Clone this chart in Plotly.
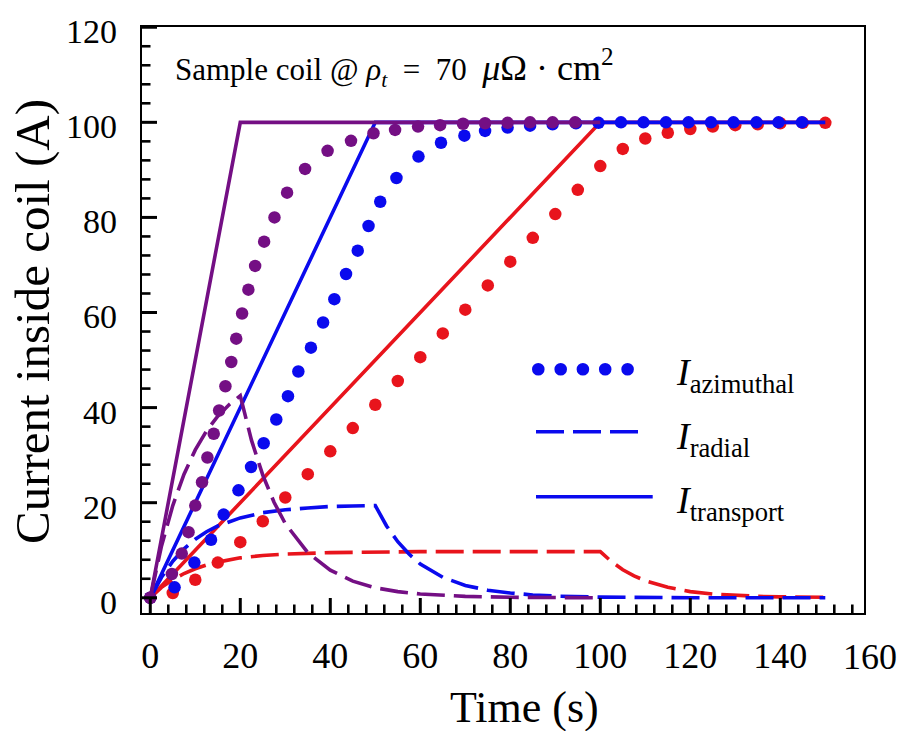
import plotly.graph_objects as go

# ---- data: currents inside the sample coil for three ramp rates ----
# transport current (solid)
t_tr_purple = [0, 20, 100]
i_tr_purple = [0, 100, 100]
t_tr_blue = [0, 50, 150]
i_tr_blue = [0, 100, 100]
t_tr_red = [0, 100, 150]
i_tr_red = [0, 100, 100]

# radial current (dashed)
t_rad_purple = [0, 2.5, 5, 7.5, 10, 12.5, 15, 17.5, 20, 22.5, 25, 27.5, 30, 35, 40, 45,
                50, 55, 60, 70, 80, 90, 100]
i_rad_purple = [0, 10.9, 19.4, 26.0, 31.1, 35.1, 38.2, 40.6, 42.5, 33.1, 25.8, 20.1, 15.6,
                9.5, 5.8, 3.5, 2.1, 1.3, 0.8, 0.3, 0.1, 0.05, 0.0]
t_rad_blue = [0, 2.5, 5, 7.5, 10, 12.5, 15, 17.5, 20, 25, 30, 35, 40, 45, 50, 52.5, 55,
              57.5, 60, 65, 70, 75, 80, 85, 90, 100, 110, 120, 150]
i_rad_blue = [0, 4.3, 7.7, 10.3, 12.3, 13.9, 15.1, 16.0, 16.8, 17.9, 18.5, 18.9, 19.2, 19.3,
              19.4, 15.1, 11.8, 9.2, 7.1, 4.3, 2.6, 1.6, 1.0, 0.6, 0.35, 0.13, 0.05, 0.02, 0.0]
t_rad_red = [0, 2.5, 5, 7.5, 10, 12.5, 15, 17.5, 20, 25, 30, 40, 50, 60, 80, 100, 102.5,
             105, 107.5, 110, 115, 120, 125, 130, 135, 140, 150]
i_rad_red = [0, 2.2, 3.8, 5.1, 6.1, 6.9, 7.5, 8.0, 8.4, 8.9, 9.2, 9.5, 9.65, 9.7, 9.7, 9.7,
             7.6, 5.9, 4.6, 3.6, 2.2, 1.3, 0.8, 0.5, 0.3, 0.2, 0.1]

# azimuthal current (dotted)
t_az_purple = [0, 4.8, 7.0, 8.5, 10, 11.5, 12.7, 14.1, 15.3, 16.7, 18.0, 19.1, 20.4, 21.8,
               23.3, 25.3, 27.6, 30.4, 34.4, 39.4, 44.6, 49.6, 54.4, 59.5, 64.4, 69.5,
               74.4, 79.4, 84.4, 89.4, 94.4]
i_az_purple = [0, 5.0, 9.3, 13.8, 19.4, 24.3, 29.5, 34.5, 39.4, 44.5, 49.6, 54.5, 59.8, 64.8,
               69.8, 74.9, 80.0, 85.2, 90.2, 94.0, 96.1, 97.7, 98.4, 99.1, 99.4, 99.7,
               99.8, 99.9, 100, 100, 100]
t_az_blue = [0, 5.4, 9.8, 13.5, 16.3, 19.6, 22.4, 25.2, 28.0, 30.6, 32.9, 35.7, 38.4, 40.9,
             43.5, 46.1, 48.5, 51.1, 54.7, 59.6, 64.6, 69.8, 74.4, 79.4, 84.4, 89.4, 94.6,
             99.6, 104.6, 109.6, 114.6, 119.6, 124.6, 129.6, 134.7, 139.6, 144.8]
i_az_blue = [0, 2.2, 7.4, 12.2, 17.5, 22.6, 27.5, 32.5, 37.5, 42.4, 47.6, 52.6, 57.9, 62.8,
             68.1, 73.0, 78.2, 83.3, 88.3, 92.8, 95.7, 97.2, 98.2, 98.9, 99.3, 99.6, 99.8,
             99.9, 100, 100, 100, 100, 100, 100, 100, 100, 100]
t_az_red = [0, 5, 10, 15, 20, 25, 30, 35, 40, 45, 50, 55, 60, 65, 70, 75, 80, 85, 90, 95,
            100, 105, 110, 115, 120, 125, 130, 135, 140, 145, 150]
i_az_red = [0, 1.0, 3.8, 7.4, 11.7, 16.1, 21.1, 26.0, 30.8, 35.7, 40.6, 45.6, 50.6, 55.6,
            60.6, 65.7, 70.7, 75.7, 80.7, 85.8, 90.8, 94.4, 96.6, 97.8, 98.6, 99.1, 99.4,
            99.6, 99.8, 99.9, 99.9]

# axis tick positions
x_major = [0, 20, 40, 60, 80, 100, 120, 140]
y_major = [0, 20, 40, 60, 80, 100, 120]
x_minor = [v for v in range(4, 157, 4) if v % 20]
y_minor = [v for v in range(4, 120, 4) if v % 20]

PURPLE = "#740F84"
BLUE = "#0A0AEE"
RED = "#E8141C"
INK = "#000000"
FONT = "Liberation Serif"
DASH = "28px,9px"

W, H = 897, 731
L, R, T, B = 142, 33, 27, 118
X_RANGE = [-1.84, 158.6]
Y_RANGE = [-3.2, 120.05]
PLOT_W = W - L - R
PLOT_H = H - T - B


def px(xpix):
    return (xpix - L) / PLOT_W


def py(ypix):
    return (H - B - ypix) / PLOT_H


# pixel length -> axis units
x_per_px = (X_RANGE[1] - X_RANGE[0]) / PLOT_W
y_per_px = (Y_RANGE[1] - Y_RANGE[0]) / PLOT_H

fig = go.Figure()

series = [
    (RED, t_rad_red, i_rad_red, t_tr_red, i_tr_red, t_az_red, i_az_red),
    (BLUE, t_rad_blue, i_rad_blue, t_tr_blue, i_tr_blue, t_az_blue, i_az_blue),
    (PURPLE, t_rad_purple, i_rad_purple, t_tr_purple, i_tr_purple, t_az_purple, i_az_purple),
]
for color, tr_t, tr_i, tt_t, tt_i, ta_t, ta_i in series:
    fig.add_trace(go.Scatter(x=tr_t, y=tr_i, mode="lines", showlegend=False,
                             line=dict(color=color, width=3.6, dash=DASH)))
    fig.add_trace(go.Scatter(x=tt_t, y=tt_i, mode="lines", showlegend=False,
                             line=dict(color=color, width=3.6)))
    fig.add_trace(go.Scatter(x=ta_t, y=ta_i, mode="markers", showlegend=False,
                             marker=dict(color=color, size=12.5, line=dict(width=0))))


def tick_trace(vals, length_px, width, vertical):
    xs, ys = [], []
    for v in vals:
        if vertical:
            xs += [v, v, None]
            ys += [Y_RANGE[0], Y_RANGE[0] + length_px * y_per_px, None]
        else:
            xs += [X_RANGE[0], X_RANGE[0] + length_px * x_per_px, None]
            ys += [v, v, None]
    return go.Scatter(x=xs, y=ys, mode="lines", showlegend=False, hoverinfo="skip",
                      cliponaxis=False, connectgaps=False,
                      line=dict(color=INK, width=width))


# inward tick marks on the bottom and left edges of the frame
fig.add_trace(tick_trace(x_major, 15, 3.0, True))
fig.add_trace(tick_trace(x_minor, 8.5, 2.6, True))
fig.add_trace(tick_trace(y_major, 15, 3.0, False))
fig.add_trace(tick_trace(y_minor, 8.5, 2.6, False))

axis_common = dict(
    showgrid=False, zeroline=False, showline=True, linewidth=2.2, linecolor=INK,
    mirror=True, ticks="", tickmode="linear", tick0=0, dtick=20,
)

fig.update_xaxes(
    range=X_RANGE,
    tickfont=dict(family=FONT, size=36, color=INK), ticklabelstandoff=10,
    **axis_common,
)
fig.update_yaxes(
    range=Y_RANGE,
    tickfont=dict(family=FONT, size=34, color=INK), ticklabelstandoff=16,
    ticklabelshift=4, **axis_common,
)

# legend keys drawn as shapes in paper space
shapes = []
for xc in [538.3, 560.7, 582.9, 605.2, 627.6]:
    shapes.append(dict(type="circle", xref="paper", yref="paper",
                       xsizemode="pixel", ysizemode="pixel",
                       xanchor=px(xc), yanchor=py(369.3),
                       x0=-6.3, x1=6.3, y0=-6.3, y1=6.3,
                       fillcolor=BLUE, line=dict(width=0)))
shapes.append(dict(type="line", xref="paper", yref="paper",
                   x0=px(536), x1=px(640), y0=py(431.7), y1=py(431.7),
                   line=dict(color=BLUE, width=3.6, dash=DASH)))
shapes.append(dict(type="line", xref="paper", yref="paper",
                   x0=px(536), x1=px(652.7), y0=py(496.7), y1=py(496.7),
                   line=dict(color=BLUE, width=3.6)))

NB = "&nbsp;"
title_text = (
    "Sample coil @ <i>ρ</i><sub><i>t</i></sub>" + NB * 2 + "=" + NB * 2 + "70" + NB * 2
    + "<span style='font-size:36px'><i>μ</i>Ω" + NB + "·" + NB + "cm<sup>2</sup></span>"
)

annotations = [
    dict(text=title_text,
         xref="paper", yref="paper", x=px(173), y=py(67), xanchor="left", yanchor="middle",
         showarrow=False, font=dict(family=FONT, size=31, color=INK)),
    dict(text="<i>I</i><sub>azimuthal</sub>", xref="paper", yref="paper",
         x=px(674), y=py(375), xanchor="left", yanchor="middle", showarrow=False,
         font=dict(family=FONT, size=38, color=INK)),
    dict(text="<i>I</i><sub>radial</sub>", xref="paper", yref="paper",
         x=px(674), y=py(439), xanchor="left", yanchor="middle", showarrow=False,
         font=dict(family=FONT, size=38, color=INK)),
    dict(text="<i>I</i><sub>transport</sub>", xref="paper", yref="paper",
         x=px(674), y=py(503), xanchor="left", yanchor="middle", showarrow=False,
         font=dict(family=FONT, size=38, color=INK)),
    dict(text="160", xref="paper", yref="paper", x=px(870), y=py(657),
         xanchor="center", yanchor="middle", showarrow=False,
         font=dict(family=FONT, size=36, color=INK)),
    dict(text="Time (s)", xref="paper", yref="paper", x=px(524), y=py(707),
         xanchor="center", yanchor="middle", showarrow=False,
         font=dict(family=FONT, size=44, color=INK)),
    dict(text="Current inside coil (A)", xref="paper", yref="paper", x=px(32), y=py(322),
         xanchor="center", yanchor="middle", textangle=-90, showarrow=False,
         font=dict(family=FONT, size=49, color=INK)),
]

fig.update_layout(
    width=W, height=H,
    margin=dict(l=L, r=R, t=T, b=B),
    paper_bgcolor="white", plot_bgcolor="white",
    showlegend=False,
    shapes=shapes,
    annotations=annotations,
)

fig.write_html("out.html")
